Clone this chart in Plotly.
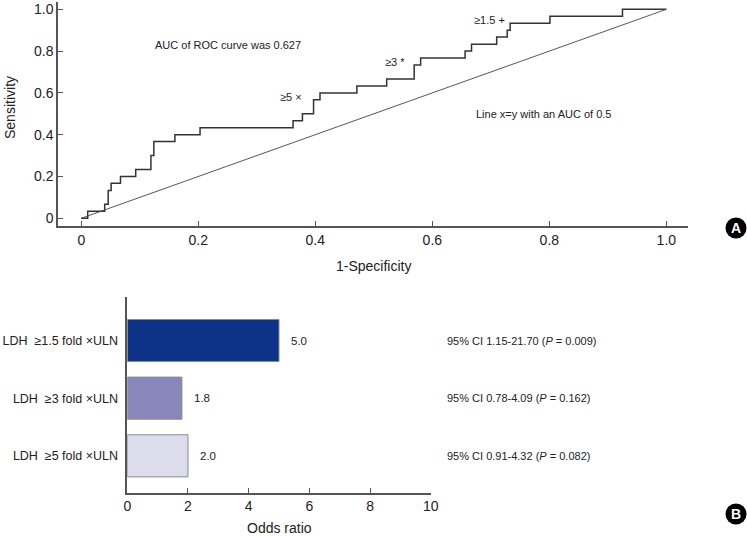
import plotly.graph_objects as go

# ---------------- data ----------------
# ROC curve (step corners)
fpr = [0.0, 0.011, 0.040, 0.046, 0.051, 0.067, 0.093, 0.119, 0.124, 0.160, 0.203,
       0.362, 0.378, 0.397, 0.408, 0.471, 0.522, 0.569, 0.580, 0.656, 0.667,
       0.710, 0.728, 0.733, 0.801, 0.925, 1.0]
tpr = [0.0, 0.033, 0.067, 0.133, 0.167, 0.200, 0.233, 0.300, 0.367, 0.400, 0.433,
       0.467, 0.500, 0.567, 0.600, 0.633, 0.667, 0.733, 0.767, 0.800, 0.833,
       0.867, 0.900, 0.933, 0.967, 1.000, 1.000]
ref_x = [0.0, 1.0]
ref_y = [0.0, 1.0]
roc_ticks = [0, 0.2, 0.4, 0.6, 0.8, 1.0]
roc_ticktext = ["0", "0.2", "0.4", "0.6", "0.8", "1.0"]

# Odds ratios
categories = ["LDH  \u22655 fold \u00d7ULN", "LDH  \u22653 fold \u00d7ULN", "LDH  \u22651.5 fold \u00d7ULN"]
odds = [2.0, 1.8, 5.0]
odds_text = ["2.0", "1.8", "5.0"]
ci_text = ["95% CI 0.91-4.32 (<i>P</i> = 0.082)",
           "95% CI 0.78-4.09 (<i>P</i> = 0.162)",
           "95% CI 1.15-21.70 (<i>P</i> = 0.009)"]
bar_colors = ["#dcdcec", "#8787bb", "#0c3388"]
or_ticks = [0, 2, 4, 6, 8, 10]

W, H = 747, 537
FONT = "Liberation Sans Narrow, Arial Narrow, Liberation Sans, Arial, sans-serif"
AX = "#555555"
TXT = "#222222"

def px(x):
    return x / W

def py(y):
    return 1 - y / H

fig = go.Figure()

# ROC
fig.add_trace(go.Scatter(x=fpr, y=tpr, mode="lines", line=dict(color="#333333", width=1.5, shape="hv"),
                         xaxis="x", yaxis="y", showlegend=False, hoverinfo="skip"))
fig.add_trace(go.Scatter(x=ref_x, y=ref_y, mode="lines", line=dict(color="#444444", width=0.9),
                         xaxis="x", yaxis="y", showlegend=False, hoverinfo="skip"))

# Bars
fig.add_trace(go.Bar(x=odds, y=categories, orientation="h", marker=dict(color=bar_colors,
                     line=dict(color="#8a8a8a", width=1)), xaxis="x2", yaxis="y2",
                     showlegend=False, hoverinfo="skip"))

ann = []
C = dict(xanchor="center", yanchor="middle", showarrow=False)
tf = dict(family=FONT, size=11, color=TXT)
ann.append(dict(x=0.251, y=0.829, xref="x", yref="y", text="AUC of ROC curve was 0.627", font=tf, **C))
ann.append(dict(x=0.358, y=0.582, xref="x", yref="y", text="\u22655 \u00d7", font=tf, **C))
ann.append(dict(x=0.536, y=0.746, xref="x", yref="y", text="\u22653 *", font=tf, **C))
ann.append(dict(x=0.698, y=0.949, xref="x", yref="y", text="\u22651.5 +", font=tf, **C))
ann.append(dict(x=0.79, y=0.497, xref="x", yref="y", text="Line x=y with an AUC of 0.5", font=tf, **C))

# axis titles
ttf = dict(family=FONT, size=14, color=TXT)
ann.append(dict(x=px(10), y=py(108), xref="paper", yref="paper", text="Sensitivity", textangle=-90,
                font=ttf, **C))
ann.append(dict(x=px(373), y=py(266), xref="paper", yref="paper", text="1-Specificity", font=ttf, **C))
ann.append(dict(x=px(279), y=py(528), xref="paper", yref="paper", text="Odds ratio", font=ttf, **C))

for v, c, t, ci in zip(odds, categories, odds_text, ci_text):
    ann.append(dict(x=v, y=c, xref="x2", yref="y2", text=t, showarrow=False, xanchor="left",
                    yanchor="middle", xshift=10, font=dict(family=FONT, size=11.5, color=TXT)))
    ann.append(dict(x=px(445), y=c, xref="paper", yref="y2", text=ci, showarrow=False, xanchor="left",
                    yanchor="middle", font=dict(family=FONT, size=11, color=TXT)))

# badges
badges = [("A", 736, 228), ("B", 736, 514)]
shapes = []
for lbl, cx, cy in badges:
    r = 10.5
    shapes.append(dict(type="circle", xref="paper", yref="paper", x0=px(cx - r), x1=px(cx + r),
                       y0=py(cy + r), y1=py(cy - r), fillcolor="black", line=dict(width=0), layer="above"))
    ann.append(dict(x=px(cx), y=py(cy), xref="paper", yref="paper", text="<b>%s</b>" % lbl,
                    font=dict(family="Liberation Sans, Arial, sans-serif", size=14, color="white"), **C))

tickfont = dict(family=FONT, size=14, color=TXT)

fig.update_layout(
    width=W, height=H, margin=dict(l=0, r=0, t=0, b=0, autoexpand=False),
    paper_bgcolor="white", plot_bgcolor="rgba(0,0,0,0)",
    annotations=ann, shapes=shapes, bargap=0.27,
    xaxis=dict(domain=[px(58), px(688)], range=[-0.0398, 1.037], tickvals=roc_ticks, ticktext=roc_ticktext,
               showline=True, linecolor=AX, linewidth=1.5, ticks="inside", ticklen=5, tickcolor=AX,
               showgrid=False, zeroline=False, tickfont=tickfont, anchor="y", automargin=False),
    yaxis=dict(domain=[py(226), py(2)], range=[-0.037, 1.035], tickvals=roc_ticks, ticktext=roc_ticktext,
               showline=True, linecolor=AX, linewidth=1.5, ticks="inside", ticklen=5, tickcolor=AX,
               showgrid=False, zeroline=False, tickfont=tickfont, anchor="x", automargin=False),
    xaxis2=dict(domain=[px(127.3), px(430.7)], range=[0, 10], tickvals=or_ticks,
                showline=True, linecolor=AX, linewidth=1.5, ticks="inside", ticklen=5, tickcolor=AX,
                showgrid=False, zeroline=False, tickfont=tickfont, anchor="y2", automargin=False),
    yaxis2=dict(domain=[py(492.7), py(296.7)], range=[-0.64, 2.76], categoryorder="array",
                categoryarray=categories, showline=True, linecolor=AX, linewidth=1.5, ticks="",
                showgrid=False, zeroline=False, tickfont=dict(family=FONT, size=12.5, color=TXT),
                anchor="x2", ticklabelstandoff=5, automargin=False),
)

fig.write_html("out.html", config={"displayModeBar": False},
               post_script="document.body.style.margin='0';document.body.style.overflow='hidden';")
